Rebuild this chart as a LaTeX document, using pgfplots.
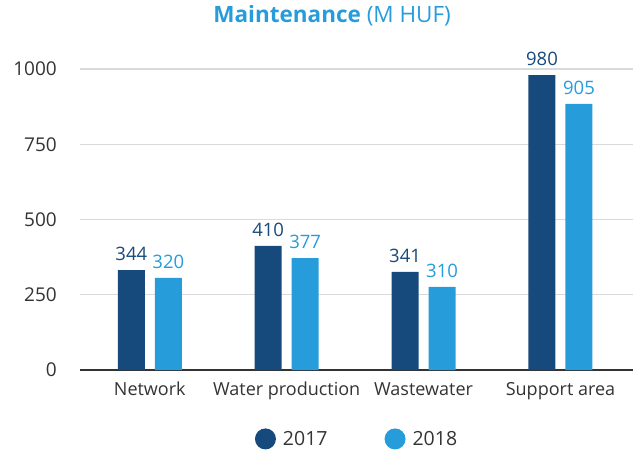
\documentclass[border=0pt]{standalone}
\usepackage{pgfplots}
\pgfplotsset{compat=1.18}
\usepackage{fontspec}
\setmainfont{Open Sans}
\definecolor{darkblue}{HTML}{174A7C}
\definecolor{lightblue}{HTML}{279CDB}
\definecolor{txt}{HTML}{333333}
\definecolor{gridc}{HTML}{DADADA}

% bar heights as drawn, labels as printed
\pgfplotstableread{
x y lab
0 332 344
1 412 410
2 326 341
3 980 980
}\yrA
\pgfplotstableread{
x y lab
0 306 320
1 372 377
2 276 310
3 884 905
}\yrB

\begin{document}
\begin{tikzpicture}
\useasboundingbox (0,0) rectangle (642pt,451pt);
\begin{axis}[
  at={(80pt,81pt)}, anchor=south west,
  scale only axis, width=553pt, height=301pt,
  xmin=-0.51, xmax=3.53, ymin=0, ymax=1000,
  clip=false,
  ybar=10pt, bar width=27pt,
  axis x line*=bottom, axis y line*=left,
  x axis line style={draw=txt, line width=2.5pt},
  y axis line style={draw=none},
  ytick={0,250,500,750,1000},
  /pgf/number format/assume math mode=true,
  /pgf/number format/1000 sep={},
  ymajorgrids, grid style={gridc, line width=1.2pt},
  major tick length=0pt, tick style={draw=none},
  xtick={0,1,2,3},
  xticklabels={Network, Water production, Wastewater, Support area},
  tick label style={font=\fontsize{18}{21}\selectfont, text=txt},
  yticklabel style={anchor=east, inner sep=0pt, xshift=-23pt, font=\fontsize{19}{22}\selectfont},
  xticklabel style={anchor=north, inner sep=0pt, yshift=-12pt},
  nodes near coords, point meta=explicit symbolic,
  every node near coord/.append style={font=\fontsize{18.5}{21}\selectfont, anchor=south, inner sep=0pt, yshift=9pt},
  title={\textbf{Maintenance} (M HUF)},
  title style={at={(0.456,1.156)}, anchor=center, font=\fontsize{22.5}{26}\selectfont, text=lightblue, inner sep=0pt},
  legend columns=2,
  legend image code/.code={\fill[#1] (10.5pt,0pt) circle (10.5pt);},
  legend style={at={(0.501,-0.229)}, anchor=center, draw=none, fill=none,
    font=\fontsize{19.5}{22}\selectfont, text=txt,
    /tikz/every odd column/.append style={column sep=5pt},
    /tikz/every even column/.append style={column sep=55pt}},
]
\addplot[fill=darkblue, draw=none, every node near coord/.append style={text=darkblue}]
  table[x=x, y=y, meta=lab] {\yrA};
\addplot[fill=lightblue, draw=none, every node near coord/.append style={text=lightblue}]
  table[x=x, y=y, meta=lab] {\yrB};
\legend{2017,2018}
\end{axis}
\end{tikzpicture}
\end{document}
